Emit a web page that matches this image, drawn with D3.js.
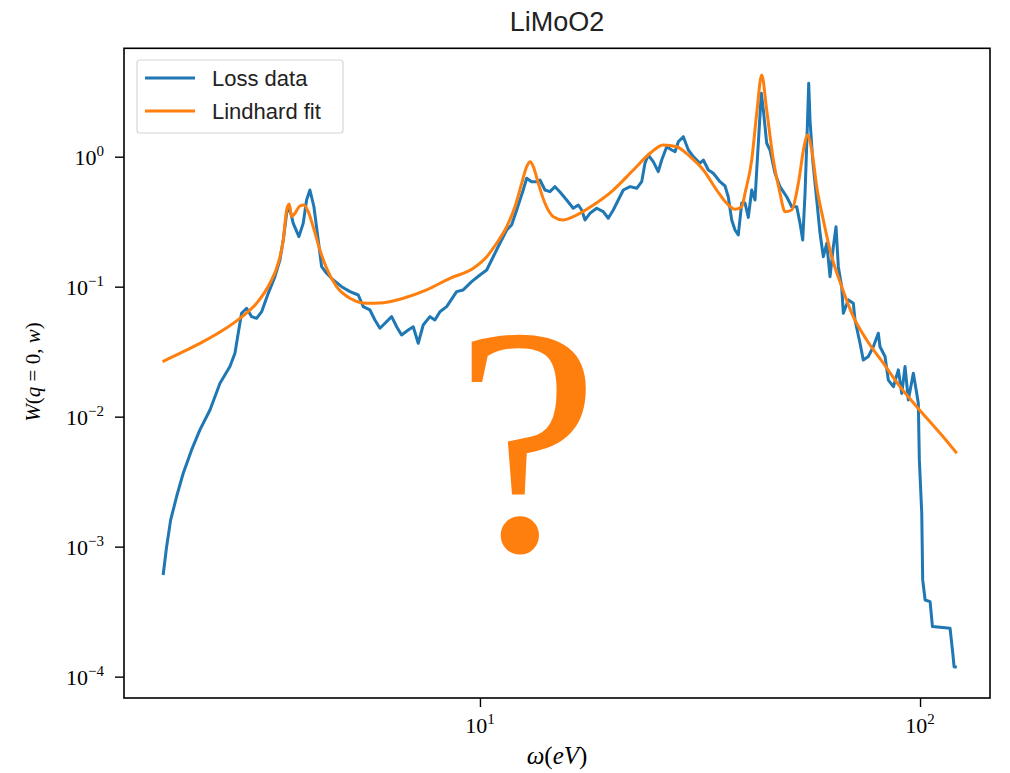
<!DOCTYPE html>
<html>
<head>
<meta charset="utf-8">
<script src="https://cdn.jsdelivr.net/npm/d3@7"></script>
<style>
    body { margin: 0; background: #fff; }
</style>
</head>
<body>
<div id="chart"></div>
<script>
// Loss data (omega in eV, W(q=0,w))
const lossX = [1.906, 1.941, 1.982, 2.045, 2.117, 2.212, 2.310, 2.435, 2.566, 2.703,
    2.775, 2.823, 2.873, 2.950, 3.028, 3.108, 3.191, 3.303, 3.421, 3.511,
    3.573, 3.637, 3.687, 3.765, 3.878, 3.966, 4.037, 4.108, 4.195, 4.290,
    4.367, 4.483, 4.641, 4.850, 5.066, 5.290, 5.430, 5.623, 5.772, 5.926,
    6.083, 6.300, 6.467, 6.637, 6.871, 7.053, 7.240, 7.431, 7.697, 7.900,
    8.111, 8.400, 8.851, 9.16, 9.575, 10.0, 10.36, 10.72, 11.10, 11.50,
    11.80, 12.12, 12.54, 12.77, 13.10, 13.45, 13.69, 14.05, 14.42, 14.81,
    15.20, 15.74, 16.29, 16.73, 17.03, 17.33, 17.78, 18.42, 19.06, 19.57,
    20.09, 20.62, 21.17, 21.93, 22.71, 23.31, 23.71, 24.12, 24.76, 25.42,
    25.88, 26.57, 27.28, 27.75, 28.23, 28.98, 29.75, 30.54, 31.62, 32.18,
    33.03, 33.90, 35.11, 36.05, 36.67, 37.33, 37.98, 38.64, 39.34, 40.02,
    40.72, 41.45, 42.17, 42.55, 43.13, 43.58, 44.05, 44.83, 45.61, 46.82,
    48.06, 49.77, 51.10, 52.46, 53.37, 54.13, 54.79, 55.45, 55.85, 56.23,
    57.03, 58.24, 59.26, 60.29, 61.38, 62.44, 63.53, 64.43, 65.21, 66.37,
    66.94, 68.71, 70.53, 71.16, 73.05, 74.31, 76.29, 78.32, 80.38, 81.11,
    83.26, 84.72, 86.98, 89.27, 90.87, 92.46, 94.05, 96.56, 98.29, 99.1,
    99.64, 100.9, 101.4, 102.7, 105.4, 106.7, 117.0, 118.7, 119.5, 121.2];
const lossW = [6.05e-4, 1.0e-3, 1.60e-3, 2.43e-3, 3.67e-3, 5.55e-3, 7.91e-3, 0.01126, 0.01807, 0.0243,
    0.0308, 0.0438, 0.0624, 0.0682, 0.0588, 0.0571, 0.0642, 0.0889, 0.1194, 0.1604,
    0.2286, 0.367, 0.412, 0.307, 0.2425, 0.307, 0.4645, 0.554, 0.412, 0.2286,
    0.1425, 0.1268, 0.1126, 0.1, 0.0916, 0.0863, 0.0702, 0.0662, 0.0554, 0.0479,
    0.0523, 0.0588, 0.0492, 0.0425, 0.0464, 0.0492, 0.0367, 0.0507, 0.0588, 0.0554,
    0.0642, 0.0702, 0.0916, 0.0944, 0.1093, 0.123, 0.1344, 0.170, 0.2157, 0.273,
    0.2983, 0.389, 0.554, 0.682, 0.642, 0.642, 0.662, 0.554, 0.538, 0.588,
    0.535, 0.4645, 0.401, 0.425, 0.389, 0.326, 0.367, 0.401, 0.3775, 0.336,
    0.389, 0.4645, 0.554, 0.588, 0.571, 0.642, 0.890, 1.03, 0.915, 0.767,
    0.943, 1.194, 1.126, 1.093, 1.304, 1.425, 1.126, 1.0, 0.890, 0.943,
    0.790, 0.745, 0.642, 0.595, 0.490, 0.326, 0.273, 0.250, 0.4405, 0.4405,
    0.341, 0.554, 0.4645, 0.790, 1.701, 3.074, 2.287, 1.268, 1.126, 0.745,
    0.588, 0.492, 0.412, 0.412, 0.307, 0.2286, 0.523, 1.701, 3.67, 1.915,
    0.943, 0.4645, 0.2575, 0.170, 0.2157, 0.1194, 0.203, 0.289, 0.1425, 0.1,
    0.0624, 0.0791, 0.0745, 0.0554, 0.0367, 0.0273, 0.0290, 0.0345, 0.0438, 0.0345,
    0.0290, 0.0191, 0.0170, 0.0229, 0.0151, 0.0243, 0.01344, 0.0216, 0.0151, 0.01268,
    4.65e-3, 1.81e-3, 5.55e-4, 3.89e-4, 3.78e-4, 2.43e-4, 2.36e-4, 1.51e-4, 1.19e-4, 1.18e-4];

// Lindhard fit
const fitX = [1.900, 2.117, 2.350, 2.610, 2.848, 3.108, 3.332, 3.480, 3.573, 3.637,
    3.687, 3.733, 3.798, 3.898, 3.981, 4.072, 4.179, 4.329, 4.483, 4.724,
    5.066, 5.527, 6.029, 6.694, 7.565, 8.547, 9.656, 10.36, 10.91, 11.50,
    12.01, 12.44, 12.77, 13.0, 13.22, 13.57, 14.05, 14.68, 15.46, 16.29,
    18.10, 20.09, 22.31, 24.35, 26.10, 27.99, 30.02, 32.18, 34.51, 36.37,
    37.98, 39.34, 40.02, 41.45, 42.55, 43.67, 44.83, 46.41, 48.06, 49.33,
    51.10, 52.90, 54.51, 55.45, 56.74, 58.24, 60.29, 63.0, 66.37, 70.53,
    75.65, 82.52, 90.06, 98.29, 111.1, 121.2];
const fitW = [0.0265, 0.0316, 0.0378, 0.0464, 0.0571, 0.0745, 0.1062, 0.1514, 0.2286, 0.389,
    0.4327, 0.3455, 0.367, 0.4175, 0.425, 0.3775, 0.289, 0.1915, 0.1385, 0.1,
    0.0814, 0.0745, 0.0753, 0.0814, 0.0944, 0.116, 0.1385, 0.170, 0.2157, 0.289,
    0.412, 0.624, 0.838, 0.915, 0.838, 0.624, 0.438, 0.3455, 0.326, 0.3455,
    0.425, 0.554, 0.790, 1.062, 1.230, 1.194, 1.0, 0.790, 0.554, 0.438,
    0.394, 0.412, 0.523, 0.943, 2.157, 4.25, 2.287, 0.943, 0.523, 0.3775,
    0.389, 0.624, 1.194, 1.469, 1.126, 0.588, 0.326, 0.170, 0.1, 0.0588,
    0.0389, 0.0258, 0.0170, 0.01194, 7.45e-3, 5.23e-3];

const xDomain = [1.553, 144.2];
const yDomain = [6.85e-5, 6.82];
const xMajorTicks = [10, 100];
const yMajorTicks = [1e-4, 1e-3, 1e-2, 1e-1, 1];
const xTickExp = ['1', '2'];
const yTickExp = ['\u22124', '\u22123', '\u22122', '\u22121', '0'];
const seriesNames = ['Loss data', 'Lindhard fit'];
const colors = ['#1f77b4', '#ff7f0e'];

const width = 1010, height = 773;
const margin = { left: 124, top: 48.3, right: 1010 - 990, bottom: 773 - 698 };
const serif = '"Liberation Serif", "DejaVu Serif", serif';
const sans = '"Liberation Sans", Arial, sans-serif';

const svg = d3.select('#chart')
    .append('svg')
    .attr('width', width)
    .attr('height', height)
    .style('background', '#fff');

const x = d3.scaleLog().domain(xDomain).range([margin.left, width - margin.right]);
const y = d3.scaleLog().domain(yDomain).range([height - margin.bottom, margin.top]);

// minor ticks (2..9 per decade) inside the domain
function minorTicks(domain) {
    const out = [];
    const lo = Math.floor(Math.log10(domain[0])), hi = Math.ceil(Math.log10(domain[1]));
    for (let e = lo; e <= hi; e++) {
        for (let m = 2; m <= 9; m++) {
            const v = m * Math.pow(10, e);
            if (v >= domain[0] && v <= domain[1]) out.push(v);
        }
    }
    return out;
}

// X axis
const xAxisG = svg.append('g').attr('transform', `translate(0,${height - margin.bottom})`);
xAxisG.call(d3.axisBottom(x).tickValues(minorTicks(xDomain)).tickSize(5).tickFormat(''));
xAxisG.call(d3.axisBottom(x).tickValues(xMajorTicks).tickSize(9).tickFormat(''));
xAxisG.selectAll('.domain').remove();
xAxisG.selectAll('line').attr('stroke', '#000').attr('stroke-width', 1.4);

const xLabels = svg.append('g');
xMajorTicks.forEach((v, i) => {
    const t = xLabels.append('text')
        .attr('x', x(v))
        .attr('y', 733)
        .attr('text-anchor', 'middle')
        .style('font-family', serif)
        .style('font-size', '22px')
        .attr('fill', '#000');
    t.append('tspan').text('10');
    t.append('tspan').attr('dy', -9).style('font-size', '15px').text(xTickExp[i]);
});

// Y axis
const yAxisG = svg.append('g').attr('transform', `translate(${margin.left},0)`);
yAxisG.call(d3.axisLeft(y).tickValues(minorTicks(yDomain)).tickSize(5).tickFormat(''));
yAxisG.call(d3.axisLeft(y).tickValues(yMajorTicks).tickSize(9).tickFormat(''));
yAxisG.selectAll('.domain').remove();
yAxisG.selectAll('line').attr('stroke', '#000').attr('stroke-width', 1.4);

const yLabels = svg.append('g');
yMajorTicks.forEach((v, i) => {
    const t = yLabels.append('text')
        .attr('x', 104)
        .attr('y', y(v) + 8)
        .attr('text-anchor', 'end')
        .style('font-family', serif)
        .style('font-size', '22px')
        .attr('fill', '#000');
    t.append('tspan').text('10');
    t.append('tspan').attr('dy', -9).style('font-size', '15px').text(yTickExp[i]);
});

// Lines
const lossData = d3.zip(lossX, lossW);
const fitData = d3.zip(fitX, fitW);

const lineLoss = d3.line().x(d => x(d[0])).y(d => y(d[1]));
const lineFit = d3.line().x(d => x(d[0])).y(d => y(d[1])).curve(d3.curveMonotoneX);

svg.append('path')
    .datum(lossData)
    .attr('d', lineLoss)
    .attr('fill', 'none')
    .attr('stroke', colors[0])
    .attr('stroke-width', 3)
    .attr('stroke-linejoin', 'round');

svg.append('path')
    .datum(fitData)
    .attr('d', lineFit)
    .attr('fill', 'none')
    .attr('stroke', colors[1])
    .attr('stroke-width', 3)
    .attr('stroke-linejoin', 'round');

// Frame
svg.append('rect')
    .attr('x', margin.left)
    .attr('y', margin.top)
    .attr('width', width - margin.left - margin.right)
    .attr('height', height - margin.top - margin.bottom)
    .attr('fill', 'none')
    .attr('stroke', '#000')
    .attr('stroke-width', 1.6);

// Big question mark
svg.append('text')
    .attr('x', 527)
    .attr('y', 550)
    .attr('text-anchor', 'middle')
    .style('font-family', serif)
    .style('font-size', '325px')
    .attr('fill', '#ff7f0e')
    .text('?');

// Legend
const legend = svg.append('g');
legend.append('rect')
    .attr('x', 137).attr('y', 60)
    .attr('width', 206).attr('height', 73)
    .attr('rx', 3)
    .attr('fill', '#fff').attr('fill-opacity', 0.8)
    .attr('stroke', '#d6d6d6').attr('stroke-width', 1.2);
seriesNames.forEach((name, i) => {
    const ly = 78 + i * 33;
    legend.append('line')
        .attr('x1', 145).attr('x2', 195)
        .attr('y1', ly).attr('y2', ly)
        .attr('stroke', colors[i]).attr('stroke-width', 3);
    legend.append('text')
        .attr('x', 212).attr('y', ly + 8)
        .style('font-family', sans)
        .style('font-size', '22px')
        .attr('fill', '#222')
        .text(name);
});

// Title
svg.append('text')
    .attr('x', 557).attr('y', 31)
    .attr('text-anchor', 'middle')
    .style('font-family', sans)
    .style('font-size', '27px')
    .attr('fill', '#222')
    .text('LiMoO2');

// Axis labels
const xl = svg.append('text')
    .attr('x', 557).attr('y', 764)
    .attr('text-anchor', 'middle')
    .style('font-family', serif)
    .style('font-size', '25px')
    .attr('fill', '#000');
xl.append('tspan').style('font-style', 'italic').text('\u03c9');
xl.append('tspan').text('(');
xl.append('tspan').style('font-style', 'italic').text('eV');
xl.append('tspan').text(')');

const yl = svg.append('text')
    .attr('transform', 'translate(40,372) rotate(-90)')
    .attr('text-anchor', 'middle')
    .style('font-family', serif)
    .style('font-size', '21px')
    .attr('fill', '#000');
yl.append('tspan').style('font-style', 'italic').text('W');
yl.append('tspan').text('(');
yl.append('tspan').style('font-style', 'italic').text('q');
yl.append('tspan').text(' = 0, ');
yl.append('tspan').style('font-style', 'italic').text('w');
yl.append('tspan').text(')');
</script>
</body>
</html>
